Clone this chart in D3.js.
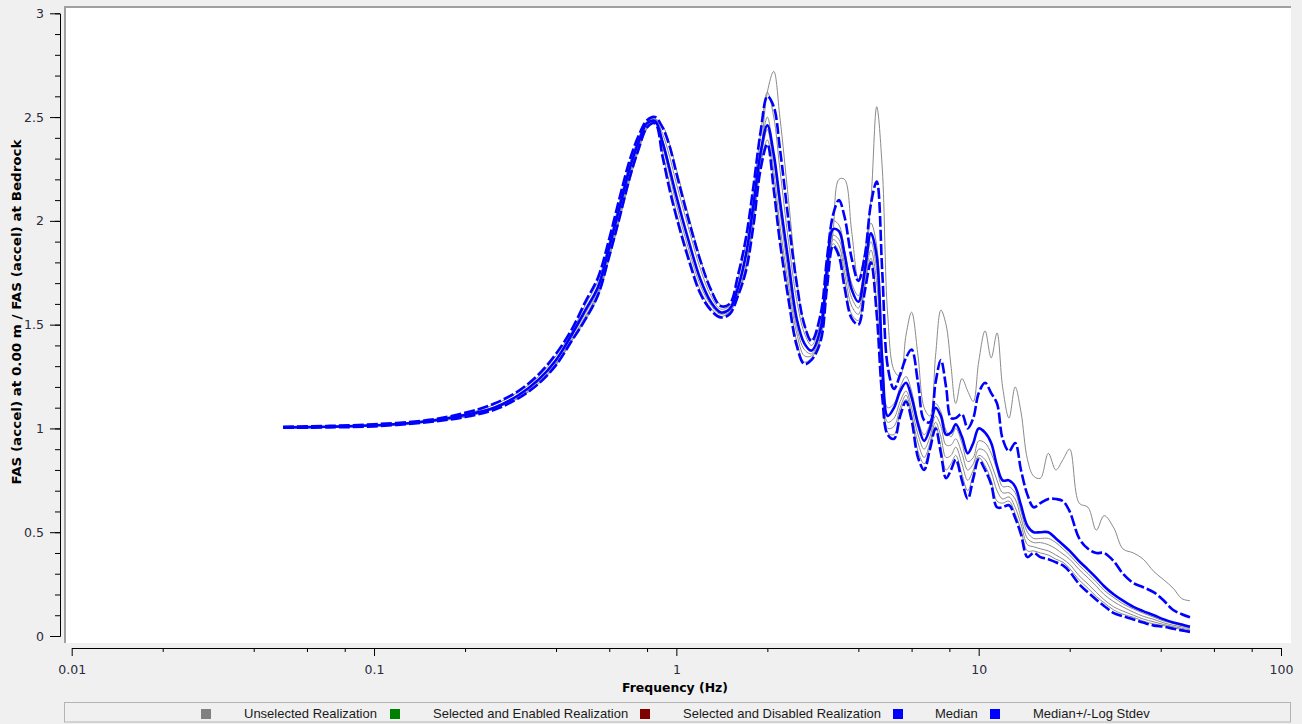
<!DOCTYPE html>
<html>
<head>
<meta charset="utf-8">
<script src="https://cdn.jsdelivr.net/npm/d3@7/dist/d3.min.js"></script>
<style>
  html, body { margin: 0; padding: 0; background: #f0f0f0; }
  svg { display: block; }
</style>
</head>
<body>
<svg id="chart" width="1302" height="724"></svg>
<script>
// ---------------- DATA ----------------
const freq = [0.05,0.07,0.1,0.15,0.2,0.25,0.3,0.35,0.4,0.45,
  0.5,0.55,0.6,0.65,0.7,0.75,0.8,0.85,0.9,0.95,
  1.0,1.1,1.2,1.3,1.4,1.5,1.6,1.7,1.8,1.9,
  2.0,2.1,2.2,2.35,2.5,2.65,2.8,3.0,3.15,3.3,
  3.45,3.6,3.8,4.0,4.2,4.4,4.6,4.8,5.0,5.25,
  5.5,5.75,6.0,6.3,6.6,6.9,7.2,7.5,7.8,8.1,
  8.4,8.8,9.2,9.6,10,10.5,11,11.5,12,12.6,
  13.2,13.8,14.5,15.2,16,17,18,19,20,21.5,
  23,24.5,26,28,30,32.5,35,38,41,44,
  47,50];

const median = [1.005,1.008,1.015,1.035,1.065,1.10,1.16,1.235,1.33,1.45,
  1.57,1.68,1.875,2.07,2.25,2.38,2.47,2.48,2.38,2.25,
  2.12,1.90,1.72,1.61,1.56,1.575,1.68,1.84,2.08,2.33,
  2.46,2.32,2.10,1.80,1.53,1.41,1.375,1.48,1.77,1.96,
  1.95,1.84,1.67,1.61,1.76,1.94,1.83,1.32,1.06,1.10,
  1.18,1.22,1.15,1.02,0.94,1.00,1.10,1.06,0.97,0.98,
  1.02,0.96,0.88,0.93,1.00,0.98,0.93,0.82,0.75,0.75,
  0.72,0.63,0.53,0.50,0.50,0.50,0.47,0.44,0.41,0.36,
  0.32,0.28,0.24,0.20,0.17,0.14,0.12,0.10,0.08,0.065,
  0.055,0.045];

const medianPlusStdev = [1.008,1.012,1.02,1.04,1.075,1.12,1.18,1.26,1.36,1.475,
  1.61,1.725,1.915,2.115,2.29,2.41,2.485,2.50,2.45,2.36,
  2.23,2.00,1.81,1.67,1.59,1.60,1.74,1.92,2.17,2.43,
  2.60,2.55,2.35,2.00,1.70,1.50,1.42,1.55,1.82,2.03,
  2.10,2.02,1.82,1.71,1.83,2.08,2.19,1.75,1.30,1.19,
  1.26,1.34,1.38,1.22,1.04,1.03,1.22,1.33,1.20,1.05,
  1.05,1.07,1.00,1.05,1.17,1.22,1.17,1.12,0.95,0.89,
  0.93,0.80,0.68,0.62,0.64,0.66,0.66,0.65,0.60,0.47,
  0.42,0.40,0.40,0.36,0.30,0.255,0.235,0.21,0.17,0.125,
  0.105,0.09];

const medianMinusStdev = [1.003,1.005,1.01,1.03,1.055,1.09,1.145,1.215,1.305,1.42,
  1.525,1.64,1.83,2.02,2.205,2.345,2.45,2.47,2.31,2.15,
  2.02,1.81,1.65,1.57,1.535,1.55,1.64,1.76,1.98,2.25,
  2.37,2.15,1.90,1.62,1.40,1.31,1.33,1.42,1.68,1.88,
  1.83,1.68,1.53,1.50,1.66,1.80,1.55,1.15,0.97,0.95,
  1.06,1.13,1.04,0.86,0.80,0.90,1.00,0.88,0.76,0.80,
  0.85,0.75,0.66,0.76,0.85,0.80,0.73,0.62,0.62,0.63,
  0.57,0.49,0.38,0.40,0.38,0.37,0.355,0.34,0.31,0.25,
  0.21,0.175,0.145,0.11,0.095,0.08,0.065,0.05,0.045,0.035,
  0.027,0.02];

const realization1 = [1.005,1.007,1.012,1.03,1.055,1.095,1.145,1.215,1.305,1.42,
  1.52,1.635,1.82,2.01,2.19,2.34,2.445,2.49,2.46,2.37,
  2.25,2.02,1.82,1.67,1.595,1.585,1.64,1.78,2.00,2.30,
  2.62,2.72,2.50,2.10,1.72,1.50,1.43,1.50,1.70,1.95,
  2.20,2.20,1.95,1.72,1.85,2.10,2.55,2.25,1.55,1.28,
  1.25,1.45,1.56,1.35,1.10,1.06,1.35,1.57,1.50,1.30,
  1.12,1.24,1.18,1.13,1.32,1.47,1.34,1.46,1.20,1.05,
  1.20,1.08,0.85,0.77,0.76,0.88,0.80,0.85,0.90,0.64,
  0.62,0.51,0.58,0.52,0.42,0.40,0.37,0.31,0.27,0.23,
  0.18,0.17];

const realization2 = [1.006,1.01,1.017,1.038,1.07,1.115,1.175,1.25,1.35,1.465,
  1.595,1.71,1.90,2.10,2.275,2.40,2.48,2.49,2.42,2.31,
  2.18,1.96,1.77,1.64,1.575,1.59,1.72,1.90,2.15,2.42,
  2.62,2.50,2.25,1.90,1.62,1.46,1.40,1.52,1.80,2.00,
  1.98,1.86,1.70,1.64,1.79,1.99,1.88,1.38,1.10,1.12,
  1.20,1.25,1.18,1.04,0.97,1.02,1.12,1.08,0.99,0.96,
  1.00,0.93,0.84,0.86,0.94,0.93,0.88,0.80,0.72,0.72,
  0.69,0.60,0.50,0.47,0.47,0.47,0.45,0.42,0.39,0.34,
  0.30,0.26,0.22,0.185,0.155,0.13,0.11,0.09,0.072,0.06,
  0.05,0.04];

const realization3 = [1.004,1.007,1.014,1.033,1.062,1.105,1.16,1.23,1.325,1.44,
  1.555,1.665,1.86,2.05,2.235,2.37,2.465,2.485,2.36,2.22,
  2.08,1.86,1.69,1.595,1.55,1.575,1.67,1.82,2.06,2.33,
  2.50,2.30,2.05,1.74,1.49,1.38,1.36,1.46,1.74,1.93,
  1.91,1.79,1.63,1.58,1.73,1.90,1.76,1.28,1.03,1.05,
  1.13,1.18,1.10,0.97,0.90,0.96,1.06,1.01,0.92,0.92,
  0.95,0.88,0.80,0.83,0.90,0.89,0.83,0.75,0.69,0.69,
  0.66,0.57,0.47,0.45,0.45,0.44,0.42,0.395,0.37,0.32,
  0.28,0.24,0.20,0.165,0.14,0.115,0.095,0.08,0.063,0.052,
  0.044,0.036];

const realization4 = [1.004,1.006,1.012,1.031,1.058,1.10,1.155,1.225,1.315,1.43,
  1.54,1.655,1.845,2.035,2.22,2.355,2.455,2.49,2.39,2.26,
  2.12,1.90,1.72,1.61,1.555,1.56,1.65,1.79,2.02,2.29,
  2.44,2.24,1.98,1.69,1.46,1.35,1.35,1.44,1.71,1.91,
  1.88,1.75,1.59,1.55,1.70,1.86,1.70,1.24,1.00,1.01,
  1.10,1.16,1.07,0.93,0.86,0.93,1.03,0.96,0.86,0.87,
  0.91,0.83,0.75,0.80,0.87,0.85,0.79,0.70,0.66,0.67,
  0.62,0.54,0.44,0.43,0.42,0.41,0.39,0.37,0.345,0.29,
  0.25,0.21,0.175,0.14,0.12,0.10,0.082,0.068,0.055,0.045,
  0.037,0.03];

const realization5 = [1.003,1.005,1.011,1.03,1.056,1.095,1.148,1.218,1.308,1.42,
  1.53,1.645,1.835,2.025,2.21,2.35,2.45,2.48,2.33,2.18,
  2.04,1.83,1.665,1.58,1.54,1.56,1.645,1.77,2.00,2.27,
  2.39,2.18,1.93,1.65,1.42,1.32,1.34,1.43,1.69,1.89,
  1.85,1.71,1.55,1.52,1.68,1.82,1.60,1.18,0.98,0.97,
  1.08,1.14,1.05,0.89,0.83,0.91,1.01,0.91,0.80,0.83,
  0.87,0.78,0.70,0.78,0.86,0.82,0.75,0.65,0.64,0.65,
  0.59,0.51,0.41,0.41,0.40,0.39,0.37,0.355,0.325,0.27,
  0.23,0.19,0.16,0.125,0.105,0.09,0.072,0.058,0.05,0.04,
  0.031,0.025];

const xTickValues = [0.01, 0.1, 1, 10, 100];
const xTickLabels = ["0.01", "0.1", "1", "10", "100"];
const yTickValues = [0, 0.5, 1, 1.5, 2, 2.5, 3];
const yTickLabels = ["0", "0.5", "1", "1.5", "2", "2.5", "3"];

const legendLabels = ["Unselected Realization", "Selected and Enabled Realization",
  "Selected and Disabled Realization", "Median", "Median+/-Log Stdev"];
const legendColors = ["#808080", "#008000", "#800000", "#0000ff", "#0000ff"];

const xTitle = "Frequency (Hz)";
const yTitle = "FAS (accel) at 0.00 m / FAS (accel) at Bedrock";

// ---------------- CHART ----------------
const svg = d3.select("#chart");
svg.append("rect").attr("width", 1302).attr("height", 724).attr("fill", "#f0f0f0");

const plot = {left: 64, top: 6, right: 1291, bottom: 643};

svg.append("rect")
  .attr("x", plot.left).attr("y", plot.top)
  .attr("width", plot.right - plot.left).attr("height", plot.bottom - plot.top)
  .attr("fill", "#ffffff");
svg.append("line").attr("x1", plot.left).attr("x2", plot.right)
  .attr("y1", plot.top + 1).attr("y2", plot.top + 1)
  .attr("stroke", "#a0a0a0").attr("stroke-width", 2);
svg.append("line").attr("x1", plot.left + 1).attr("x2", plot.left + 1)
  .attr("y1", plot.top).attr("y2", plot.bottom)
  .attr("stroke", "#a0a0a0").attr("stroke-width", 2);

const x = d3.scaleLog().domain([0.01, 100]).range([71.7, 1281]);
const y = d3.scaleLinear().domain([0, 3]).range([636, 13.3]);

const tickFont = "'DejaVu Sans', Verdana, sans-serif";
const labelFont = "'Liberation Sans', Arial, sans-serif";
const titleFont = "'DejaVu Sans', Verdana, sans-serif";

// Y axis
const yAxisG = svg.append("g").attr("transform", "translate(60,0)");
yAxisG.call(d3.axisLeft(y).tickValues(d3.range(0, 3.001, 0.1)).tickSize(5).tickSizeOuter(0).tickFormat(""));
yAxisG.append("g").call(d3.axisLeft(y).tickValues(yTickValues).tickSize(10).tickSizeOuter(0).tickPadding(6)
  .tickFormat((d, i) => yTickLabels[i]));
yAxisG.selectAll("text").attr("font-family", tickFont).attr("font-size", 12.5).attr("fill", "#2a2a3a");
yAxisG.selectAll(".domain").attr("stroke", "#000");
yAxisG.selectAll(".tick line").attr("stroke", "#000");

// X axis
const xMinor = [];
[0.01, 0.1, 1, 10].forEach(dec => [2, 4, 6, 8].forEach(m => xMinor.push(dec * m)));
const xAxisG = svg.append("g").attr("transform", "translate(0,648)");
xAxisG.call(d3.axisBottom(x).tickValues(xMinor).tickSize(4).tickSizeOuter(0).tickFormat(""));
xAxisG.append("g").call(d3.axisBottom(x).tickValues(xTickValues).tickSize(8).tickSizeOuter(0).tickPadding(9)
  .tickFormat((d, i) => xTickLabels[i]));
xAxisG.selectAll("text").attr("font-family", tickFont).attr("font-size", 12.5).attr("fill", "#2a2a3a");
xAxisG.selectAll(".domain").attr("stroke", "#000");
xAxisG.selectAll(".tick line").attr("stroke", "#000");

// Titles
svg.append("text").attr("x", 675).attr("y", 692).attr("text-anchor", "middle")
  .attr("font-family", titleFont).attr("font-weight", "bold").attr("font-size", 12)
  .attr("textLength", 106).attr("lengthAdjust", "spacingAndGlyphs")
  .attr("fill", "#000").text(xTitle);
svg.append("text").attr("transform", "translate(21,312) rotate(-90)").attr("text-anchor", "middle")
  .attr("font-family", titleFont).attr("font-weight", "bold").attr("font-size", 12)
  .attr("textLength", 345).attr("lengthAdjust", "spacingAndGlyphs")
  .attr("fill", "#000").text(yTitle);

// Clip
svg.append("clipPath").attr("id", "clip").append("rect")
  .attr("x", plot.left + 2).attr("y", plot.top + 2)
  .attr("width", plot.right - plot.left - 2).attr("height", plot.bottom - plot.top - 2);

const lineGen = d3.line()
  .x(d => x(d[0])).y(d => y(d[1]))
  .curve(d3.curveCatmullRom.alpha(0.5));

const g = svg.append("g").attr("clip-path", "url(#clip)");
const grays = [realization2, realization3, realization4, realization5, realization1];
grays.forEach(vals => {
  g.append("path").datum(freq.map((f, i) => [f, vals[i]]))
    .attr("d", lineGen).attr("fill", "none")
    .attr("stroke", "#8a8a8a").attr("stroke-width", 1);
});
[medianMinusStdev, medianPlusStdev].forEach(vals => {
  g.append("path").datum(freq.map((f, i) => [f, vals[i]]))
    .attr("d", lineGen).attr("fill", "none")
    .attr("stroke", "#0000ff").attr("stroke-width", 2.6)
    .attr("stroke-dasharray", "11,3");
});
g.append("path").datum(freq.map((f, i) => [f, median[i]]))
  .attr("d", lineGen).attr("fill", "none")
  .attr("stroke", "#0000ff").attr("stroke-width", 2.6);

// Legend
svg.append("rect").attr("x", 64.5).attr("y", 702.5).attr("width", 1226).attr("height", 19.5)
  .attr("fill", "#f0f0f0").attr("stroke", "#b4b4b4").attr("stroke-width", 1);
const legSquareX = [201, 390, 640, 893, 990];
const legTextX = [244, 433, 683, 935, 1033];
legendLabels.forEach((lab, i) => {
  svg.append("rect").attr("x", legSquareX[i]).attr("y", 709).attr("width", 10).attr("height", 10)
    .attr("fill", legendColors[i]);
  svg.append("text").attr("x", legTextX[i]).attr("y", 718)
    .attr("font-family", labelFont).attr("font-size", 13).attr("fill", "#1a1a1a").text(lab);
});
</script>
</body>
</html>
